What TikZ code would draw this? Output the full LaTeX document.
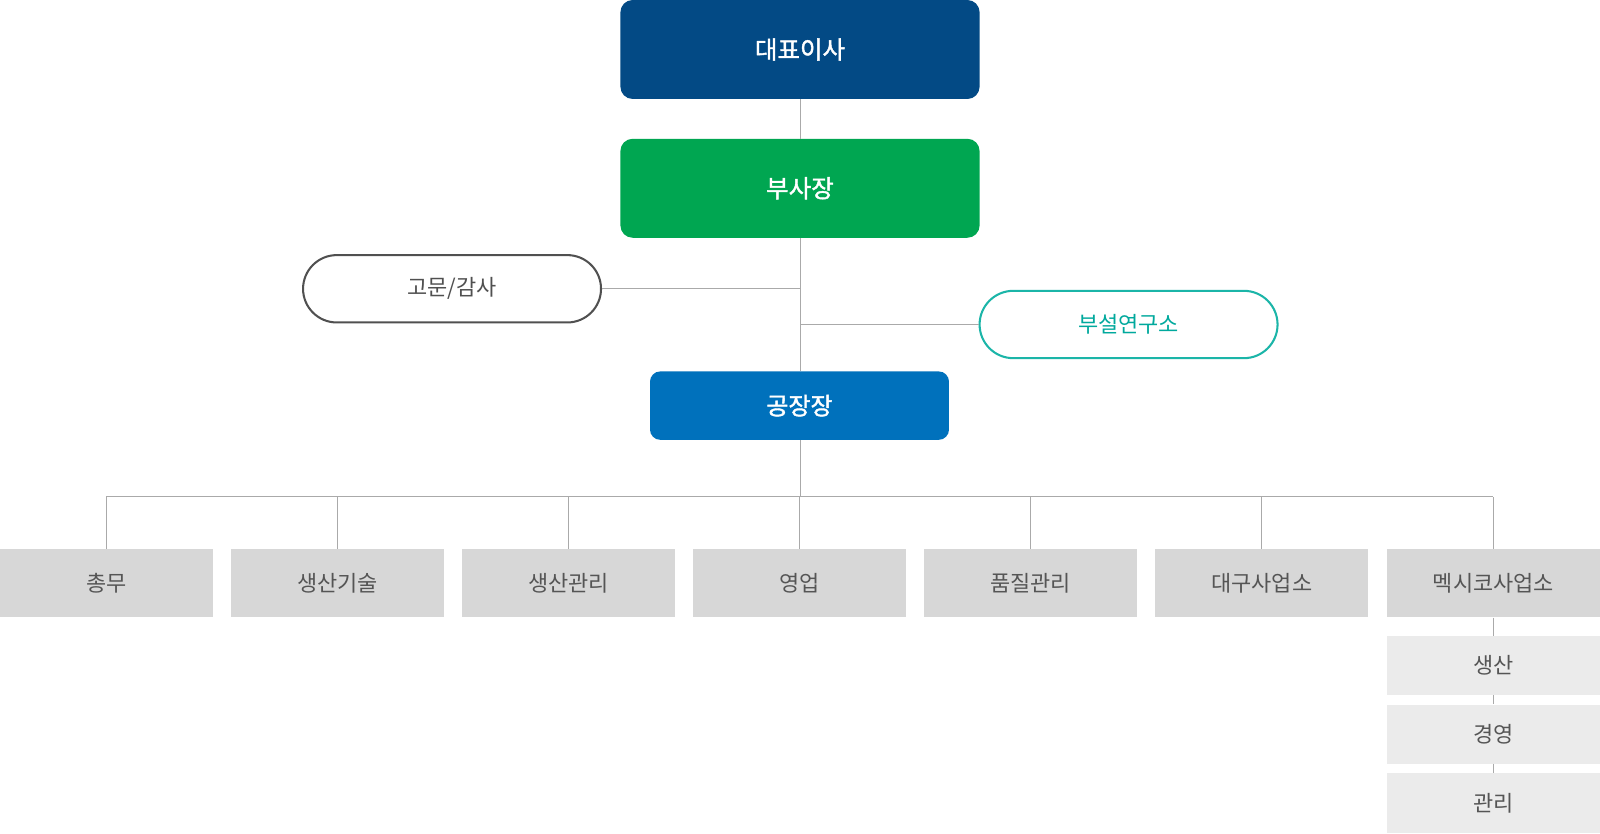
\documentclass[tikz,border=0pt]{standalone}
\usepackage{fontspec}
\setmainfont{Noto Sans CJK KR}
\newfontfamily\krmed{Noto Sans CJK KR}[FakeBold=1.6]
\usetikzlibrary{shapes.misc}
\definecolor{ceo}{HTML}{034A85}
\definecolor{vp}{HTML}{00A651}
\definecolor{plant}{HTML}{0071BC}
\definecolor{teal}{HTML}{1BB5A8}
\definecolor{tealtext}{HTML}{00A99D}
\definecolor{advisor}{HTML}{505050}
\definecolor{linegray}{HTML}{AAAAAA}
\definecolor{boxgray}{HTML}{D7D7D7}
\definecolor{subgray}{HTML}{EBEBEB}
\definecolor{txtgray}{HTML}{555555}
\tikzset{
  topbox/.style={rounded corners=12pt, minimum width=352pt, minimum height=97pt, inner sep=0pt, text=white, font=\krmed\fontsize{24}{28}\selectfont},
  plantbox/.style={rounded corners=10pt, fill=plant, minimum width=293pt, minimum height=67pt, inner sep=0pt, text=white, font=\krmed\fontsize{23.5}{27}\selectfont},
  pill/.style={rounded rectangle, fill=white, line width=2pt, minimum width=292pt, minimum height=66pt, inner sep=0pt, font=\fontsize{21.5}{25}\selectfont},
  deptbox/.style={fill=boxgray, minimum width=209pt, minimum height=67pt, inner sep=0pt, text=txtgray, font=\fontsize{21.5}{25}\selectfont},
  subbox/.style={fill=subgray, minimum width=209pt, minimum height=58pt, inner sep=0pt, text=txtgray, font=\fontsize{21.5}{25}\selectfont},
  conn/.style={draw=linegray, line width=1pt}
}
\begin{document}
\begin{tikzpicture}[x=1pt,y=-1pt]
\useasboundingbox (0,0) rectangle (1568,817.3);
\fill[white] (0,0) rectangle (1568,817.3);
% top
\node[topbox, fill=ceo] (ceo) at (784,48.5) {대표이사};
\node[topbox, fill=vp] (vp) at (784,184.5) {부사장};
\node[pill, draw=advisor, text=advisor] (adv) at (443,283) {고문/감사};
\node[pill, draw=teal, text=tealtext] (lab) at (1106,318) {부설연구소};
\node[plantbox] (plant) at (783.5,397.5) {공장장};
% departments
\node[deptbox] (d1) at (104.2,571.5) {총무};
\node[deptbox] (d2) at (330.7,571.5) {생산기술};
\node[deptbox] (d3) at (557,571.5) {생산관리};
\node[deptbox] (d4) at (783.5,571.5) {영업};
\node[deptbox] (d5) at (1010,571.5) {품질관리};
\node[deptbox] (d6) at (1236.5,571.5) {대구사업소};
\node[deptbox] (d7) at (1463.5,571.5) {멕시코사업소};
\node[subbox] (s1) at (1463.5,652) {생산};
\node[subbox] (s2) at (1463.5,719.5) {경영};
\node[subbox] (s3) at (1463.5,787) {관리};
% junctions
\coordinate (advj) at (784,283);
\coordinate (labj) at (784,318);
\coordinate (bus) at (784,487);
% connectors
\draw[conn] (ceo.south) -- (vp.north);
\draw[conn] (vp.south) -- (plant.north -| vp.south);
\draw[conn] (adv.east) -- (advj);
\draw[conn] (labj) -- (lab.west);
\draw[conn] (plant.south -| bus) -- (bus);
\foreach \d in {d1,d2,d3,d4,d5,d6,d7}{
  \draw[conn] (\d.north) -- (\d.north |- bus);
}
\draw[conn] (d1.north |- bus) -- (d7.north |- bus);
\draw[conn] (d7.south) -- (s1.north);
\draw[conn] (s1.south) -- (s2.north);
\draw[conn] (s2.south) -- (s3.north);
\end{tikzpicture}
\end{document}
